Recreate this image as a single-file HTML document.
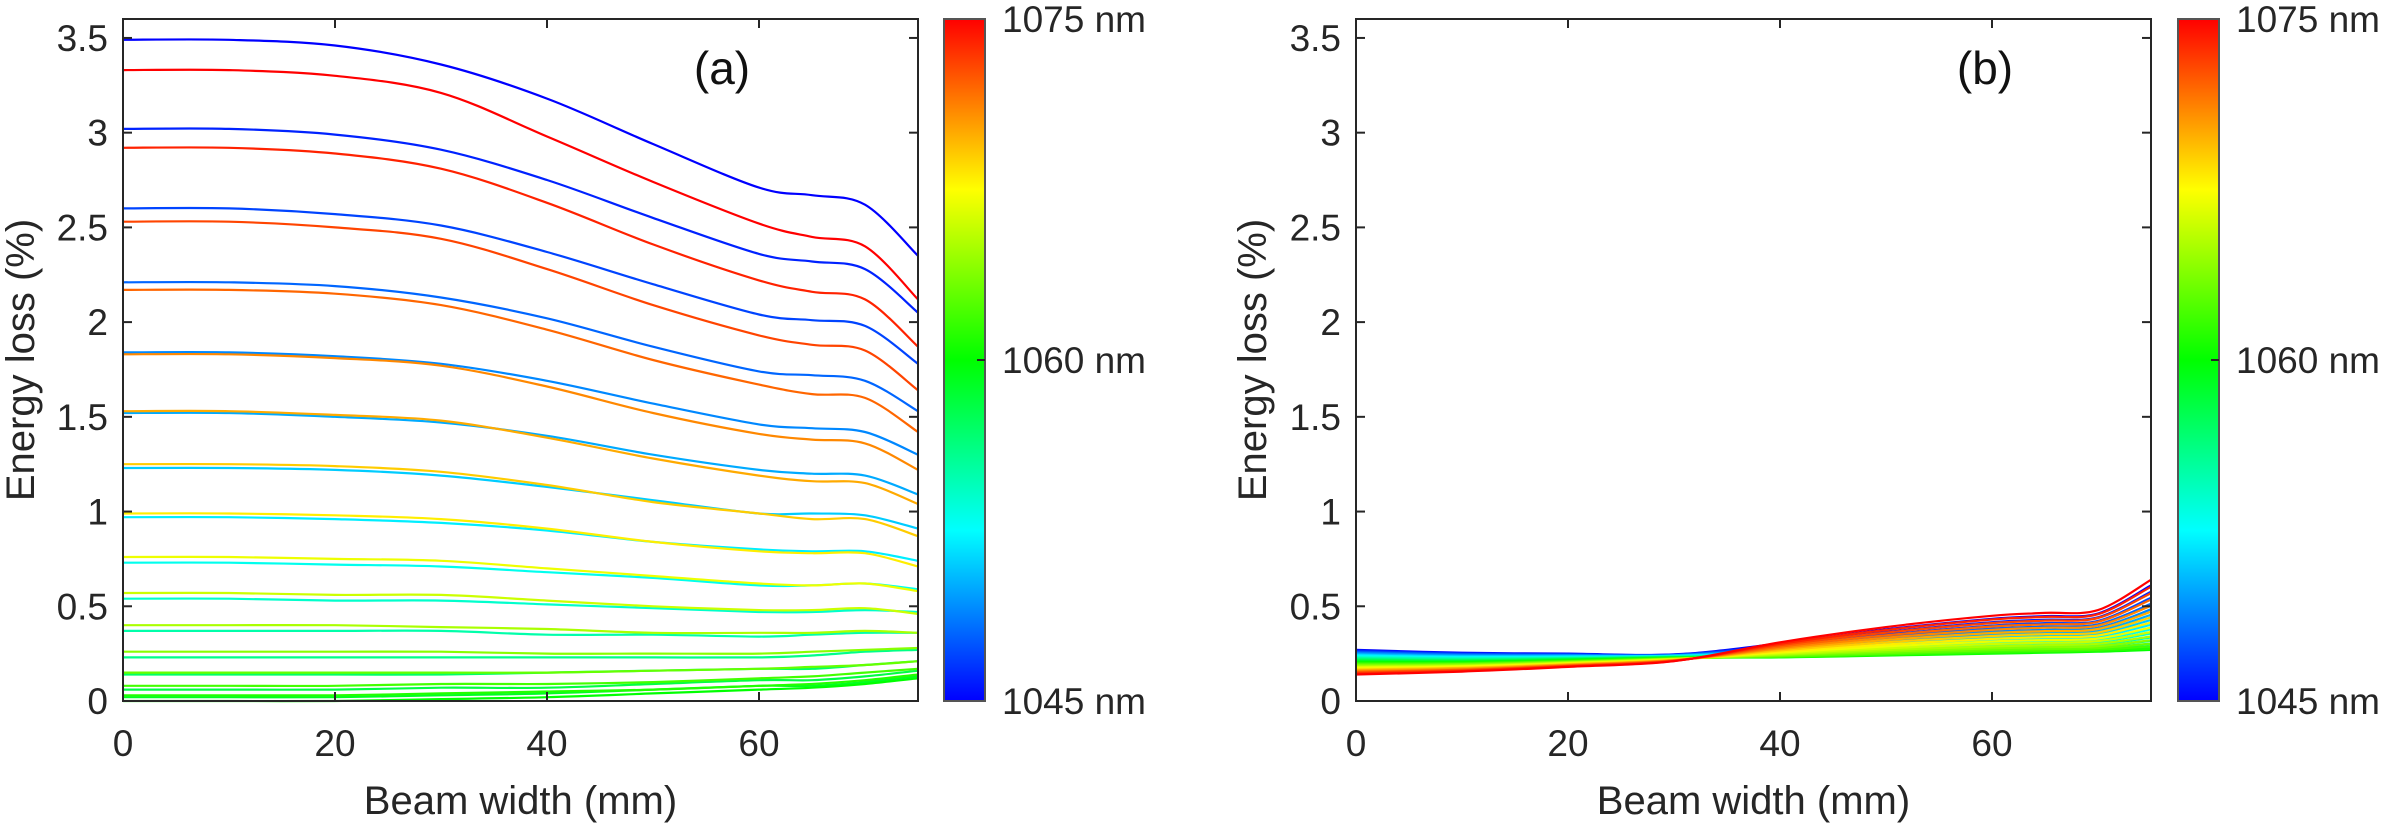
<!DOCTYPE html>
<html><head><meta charset="utf-8">
<style>
html,body{margin:0;padding:0;background:#fff;}
svg{display:block;font-family:"Liberation Sans",Arial,sans-serif;}
</style></head>
<body>
<svg id="fig" width="2385" height="824" viewBox="0 0 2385 824" xmlns="http://www.w3.org/2000/svg">
<defs>
<linearGradient id="jet" x1="0" y1="1" x2="0" y2="0">
<stop offset="0" stop-color="#0000ff"/><stop offset="0.25" stop-color="#00ffff"/>
<stop offset="0.5" stop-color="#00ff00"/><stop offset="0.75" stop-color="#ffff00"/>
<stop offset="1" stop-color="#ff0000"/>
</linearGradient>
</defs>
</svg>
<script>
const xSamples = [0,10,20,30,40,50,60,65,70,75];
const wavelengths = [1045,1046,1047,1048,1049,1050,1051,1052,1053,1054,1055,1056,1057,1058,1059,1060,1061,1062,1063,1064,1065,1066,1067,1068,1069,1070,1071,1072,1073,1074,1075];
const xTicks = [0,20,40,60];
const yTicks = [0,0.5,1,1.5,2,2.5,3,3.5];
const yTickLabels = ["0","0.5","1","1.5","2","2.5","3","3.5"];
const cbarLabels = ["1045 nm","1060 nm","1075 nm"];
// panel (a) values, one row per wavelength 1045..1075
const lossA = [
[3.49,3.49,3.46,3.36,3.18,2.94,2.71,2.67,2.62,2.35],
[3.02,3.02,2.99,2.91,2.75,2.55,2.36,2.32,2.28,2.05],
[2.60,2.60,2.57,2.51,2.37,2.20,2.04,2.01,1.98,1.78],
[2.21,2.21,2.19,2.13,2.02,1.87,1.74,1.72,1.69,1.53],
[1.84,1.84,1.82,1.78,1.69,1.57,1.46,1.44,1.42,1.30],
[1.52,1.52,1.50,1.47,1.40,1.30,1.22,1.20,1.19,1.09],
[1.23,1.23,1.22,1.19,1.13,1.06,0.99,0.99,0.98,0.91],
[0.97,0.97,0.96,0.94,0.90,0.84,0.80,0.79,0.79,0.74],
[0.73,0.73,0.72,0.71,0.68,0.65,0.61,0.61,0.62,0.59],
[0.54,0.54,0.53,0.53,0.51,0.49,0.47,0.47,0.48,0.47],
[0.37,0.37,0.37,0.37,0.35,0.35,0.34,0.35,0.36,0.36],
[0.23,0.23,0.23,0.23,0.23,0.23,0.23,0.24,0.26,0.27],
[0.14,0.14,0.14,0.14,0.15,0.16,0.17,0.17,0.19,0.21],
[0.06,0.06,0.06,0.07,0.07,0.09,0.11,0.11,0.13,0.16],
[0.02,0.02,0.02,0.03,0.04,0.06,0.08,0.08,0.10,0.13],
[0.00,0.00,0.00,0.01,0.02,0.04,0.06,0.07,0.09,0.12],
[0.03,0.03,0.03,0.04,0.05,0.06,0.08,0.09,0.11,0.14],
[0.08,0.08,0.08,0.09,0.09,0.10,0.12,0.13,0.15,0.17],
[0.15,0.15,0.15,0.15,0.15,0.16,0.17,0.18,0.19,0.21],
[0.26,0.26,0.26,0.26,0.25,0.25,0.25,0.26,0.27,0.28],
[0.40,0.40,0.40,0.39,0.38,0.36,0.36,0.36,0.37,0.36],
[0.57,0.57,0.56,0.56,0.53,0.50,0.48,0.48,0.49,0.46],
[0.76,0.76,0.75,0.74,0.70,0.66,0.62,0.61,0.62,0.58],
[0.99,0.99,0.98,0.96,0.91,0.84,0.79,0.78,0.78,0.71],
[1.25,1.25,1.24,1.21,1.14,1.05,0.99,0.96,0.96,0.87],
[1.53,1.53,1.51,1.48,1.39,1.28,1.19,1.16,1.15,1.04],
[1.83,1.83,1.81,1.77,1.66,1.52,1.41,1.38,1.36,1.22],
[2.17,2.17,2.15,2.09,1.96,1.80,1.67,1.62,1.60,1.42],
[2.53,2.53,2.50,2.44,2.28,2.09,1.93,1.88,1.85,1.64],
[2.92,2.92,2.89,2.81,2.63,2.41,2.22,2.16,2.12,1.87],
[3.33,3.33,3.30,3.21,2.98,2.74,2.52,2.45,2.40,2.12]
];
// panel (b) values
const lossB = [
[0.270,0.255,0.250,0.246,0.304,0.378,0.434,0.448,0.462,0.610],
[0.266,0.252,0.248,0.245,0.296,0.364,0.416,0.429,0.442,0.577],
[0.261,0.248,0.245,0.244,0.289,0.351,0.398,0.411,0.423,0.545],
[0.257,0.245,0.243,0.242,0.283,0.339,0.382,0.393,0.405,0.513],
[0.253,0.242,0.241,0.241,0.276,0.327,0.366,0.376,0.387,0.484],
[0.248,0.238,0.238,0.240,0.270,0.315,0.350,0.360,0.370,0.455],
[0.244,0.235,0.236,0.239,0.264,0.304,0.336,0.345,0.354,0.428],
[0.240,0.232,0.234,0.238,0.259,0.294,0.322,0.330,0.339,0.402],
[0.235,0.228,0.231,0.236,0.253,0.284,0.309,0.317,0.324,0.378],
[0.231,0.225,0.229,0.235,0.249,0.275,0.297,0.304,0.311,0.356],
[0.227,0.222,0.227,0.234,0.244,0.267,0.285,0.292,0.299,0.335],
[0.222,0.218,0.224,0.233,0.240,0.259,0.275,0.282,0.288,0.317],
[0.218,0.215,0.222,0.232,0.237,0.252,0.266,0.272,0.278,0.300],
[0.214,0.212,0.220,0.230,0.234,0.247,0.259,0.264,0.270,0.287],
[0.209,0.208,0.217,0.229,0.231,0.242,0.253,0.258,0.264,0.276],
[0.205,0.205,0.215,0.228,0.230,0.240,0.250,0.255,0.260,0.270],
[0.201,0.202,0.213,0.227,0.231,0.243,0.253,0.259,0.264,0.276],
[0.196,0.198,0.210,0.226,0.234,0.247,0.260,0.265,0.271,0.288],
[0.192,0.195,0.208,0.224,0.237,0.253,0.268,0.274,0.280,0.303],
[0.188,0.192,0.206,0.223,0.241,0.261,0.278,0.284,0.290,0.321],
[0.183,0.188,0.203,0.222,0.245,0.269,0.288,0.295,0.302,0.341],
[0.179,0.185,0.201,0.221,0.250,0.278,0.301,0.308,0.316,0.364],
[0.175,0.182,0.199,0.220,0.256,0.288,0.314,0.322,0.330,0.388],
[0.170,0.178,0.196,0.218,0.261,0.298,0.328,0.337,0.346,0.414],
[0.166,0.175,0.194,0.217,0.267,0.310,0.343,0.353,0.362,0.442],
[0.162,0.172,0.192,0.216,0.274,0.322,0.359,0.369,0.380,0.471],
[0.157,0.168,0.189,0.215,0.280,0.334,0.376,0.387,0.398,0.502],
[0.153,0.165,0.187,0.214,0.287,0.347,0.393,0.405,0.418,0.535],
[0.149,0.162,0.185,0.212,0.295,0.361,0.411,0.424,0.438,0.569],
[0.144,0.158,0.182,0.211,0.302,0.375,0.430,0.444,0.458,0.603],
[0.140,0.155,0.180,0.210,0.310,0.390,0.450,0.465,0.480,0.640]
];

const NS = "http://www.w3.org/2000/svg";
const svg = document.getElementById('fig');
function mk(tag, attrs, parent){
  const e = document.createElementNS(NS, tag);
  for (const k in attrs) e.setAttribute(k, attrs[k]);
  (parent||svg).appendChild(e);
  return e;
}
function jet(t){
  const stops=[[0,0,0,255],[0.25,0,255,255],[0.5,0,255,0],[0.75,255,255,0],[1,255,0,0]];
  for(let i=0;i<stops.length-1;i++){
    const a=stops[i],b=stops[i+1];
    if(t<=b[0]){const f=(t-a[0])/(b[0]-a[0]);
      return `rgb(${Math.round(a[1]+f*(b[1]-a[1]))},${Math.round(a[2]+f*(b[2]-a[2]))},${Math.round(a[3]+f*(b[3]-a[3]))})`;}
  }
  return 'rgb(255,0,0)';
}
function smoothPath(pts){
  let d=`M${pts[0][0].toFixed(1)},${pts[0][1].toFixed(1)}`;
  for(let i=0;i<pts.length-1;i++){
    const p0=pts[i-1]||pts[i],p1=pts[i],p2=pts[i+1],p3=pts[i+2]||p2;
    const c1=[p1[0]+(p2[0]-p0[0])/6,p1[1]+(p2[1]-p0[1])/6];
    const c2=[p2[0]-(p3[0]-p1[0])/6,p2[1]-(p3[1]-p1[1])/6];
    d+=`C${c1[0].toFixed(1)},${c1[1].toFixed(1)} ${c2[0].toFixed(1)},${c2[1].toFixed(1)} ${p2[0].toFixed(1)},${p2[1].toFixed(1)}`;
  }
  return d;
}
function panel(id, left, data, label, labelX, cbLeft, ylabX){
  const top=19, bottom=701, right=left+795;
  const xs = v => left + v/75*(right-left);
  const ys = v => bottom - v/3.6*(bottom-top);
  const g = mk('g',{});
  
  
  const lines = mk('g',{},g);
  
  
  data.forEach((row,i)=>{
    const pts=row.map((v,j)=>[xs(xSamples[j]),ys(v)]);
    const t=(wavelengths[i]-1045)/30;
    const p=mk('path',{d:smoothPath(pts),fill:'none',stroke:jet(t),'stroke-width':2.2},lines);
    
    
  });
  const ax = mk('rect',{x:left,y:top,width:right-left,height:bottom-top,fill:'none',stroke:'#262626','stroke-width':2},g);
  
  
  xTicks.forEach(v=>{
    const x=xs(v);
    mk('line',{x1:x,y1:bottom,x2:x,y2:bottom-9,stroke:'#262626','stroke-width':2},g);
    mk('line',{x1:x,y1:top,x2:x,y2:top+9,stroke:'#262626','stroke-width':2},g);
    const t=mk('text',{x:x,y:756,'font-size':37,'text-anchor':'middle',fill:'#262626'},g);
    t.textContent=String(v);
    
    
  });
  yTicks.forEach((v,i)=>{
    const y=ys(v);
    mk('line',{x1:left,y1:y,x2:left+9,y2:y,stroke:'#262626','stroke-width':2},g);
    mk('line',{x1:right,y1:y,x2:right-9,y2:y,stroke:'#262626','stroke-width':2},g);
    const t=mk('text',{x:left-15,y:y+13,'font-size':37,'text-anchor':'end',fill:'#262626'},g);
    t.textContent=yTickLabels[i];
    
    
  });
  const xl=mk('text',{x:(left+right)/2,y:814,'font-size':40,'text-anchor':'middle',fill:'#262626'},g);
  xl.textContent='Beam width (mm)';
  
  
  const yl=mk('text',{x:0,y:0,'font-size':40,'text-anchor':'middle',fill:'#262626',transform:`translate(${ylabX},${(top+bottom)/2}) rotate(-90)`},g);
  yl.textContent='Energy loss (%)';
  
  
  const pl=mk('text',{x:labelX,y:84,'font-size':46,'text-anchor':'middle',fill:'#111'},g);
  pl.textContent=label;
  
  
  const cb=mk('rect',{x:cbLeft,y:top,width:41,height:bottom-top,fill:'url(#jet)',stroke:'#555','stroke-width':2},g);
  
  
  mk('line',{x1:cbLeft+41,y1:(top+bottom)/2,x2:cbLeft+33,y2:(top+bottom)/2,stroke:'#262626','stroke-width':2},g);
  [bottom,(top+bottom)/2,top].forEach((y,i)=>{
    const t=mk('text',{x:cbLeft+58,y:y+13,'font-size':37,fill:'#262626'},g);
    t.textContent=cbarLabels[i];
    
    
  });
}
panel('a',123,lossA,'(a)',722,944,34);
panel('b',1356,lossB,'(b)',1985,2178,1266);
</script>
</body></html>
